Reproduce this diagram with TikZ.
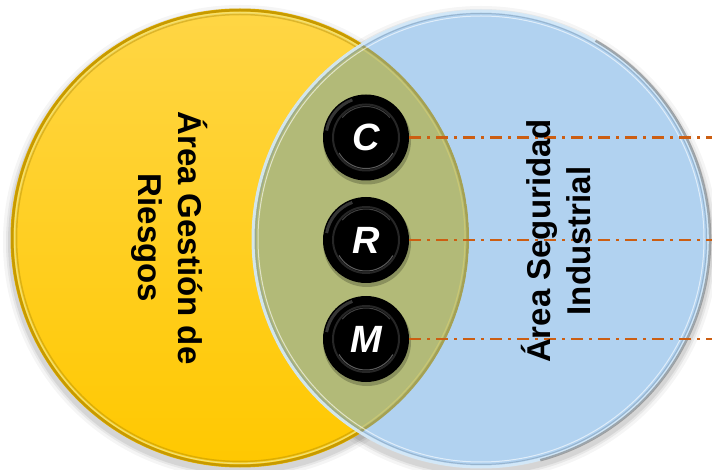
\documentclass[tikz,border=0pt]{standalone}
\usepackage{fontspec}
\setmainfont{Liberation Sans}
\definecolor{ytop}{HTML}{FFD645}
\definecolor{ybot}{HTML}{FFC800}
\definecolor{yring}{HTML}{E3B000}
\definecolor{yhi}{HTML}{FFE56A}
\definecolor{bfill}{HTML}{B1D2F0}
\definecolor{bring}{HTML}{D6EAF8}
\definecolor{bdark}{HTML}{7F97AD}
\definecolor{lens}{HTML}{B2BA78}
\definecolor{dashc}{HTML}{CC5E12}
\tikzset{
  btn/.style={circle, inner sep=0pt, minimum size=86pt, fill=black, text=white,
    font=\fontsize{38}{38}\selectfont\bfseries\itshape,
    path picture={
      \draw[line width=3pt, black!65, opacity=.6]
        ([shift={(110:40pt)}]path picture bounding box.center) arc[start angle=110, end angle=170, radius=40pt];
      \draw[line width=2pt, black!85]
        (path picture bounding box.center) circle (33pt);
      \draw[line width=1pt, black!55, opacity=.8]
        ([shift={(210:31pt)}]path picture bounding box.center) arc[start angle=210, end angle=330, radius=31pt];
      \draw[line width=1pt, black!75]
        ([shift={(40:31pt)}]path picture bounding box.center) arc[start angle=40, end angle=140, radius=31pt];
    }},
  btnshadow/.style={fill=black, opacity=.22},
  dashline/.style={draw=dashc, line width=2.6pt, dash pattern=on 12pt off 6pt on 3pt off 6pt},
  bigtext/.style={align=center, font=\fontsize{33}{40}\selectfont\bfseries, text=black},
}
\begin{document}
\begin{tikzpicture}[x=1pt,y=1pt]
\useasboundingbox (0,0) rectangle (712,469);
\coordinate (Y) at (240,231);
\coordinate (B) at (481,230);
% soft shadows
\foreach \d/\o in {8/0.04,5/0.06,3/0.08} {
  \fill[black,opacity=\o] (240,227) circle ({229pt+\d pt});
  \fill[black,opacity=\o] (481,226) circle ({229pt+\d pt});
}
% yellow circle
\shade[top color=ytop, bottom color=ybot] (Y) circle (229pt);
\draw[yring, line width=3pt] (Y) circle (228pt);
\draw[yhi, line width=1.2pt] (Y) circle (225.5pt);
\draw[yring!70!black, line width=1.5pt, opacity=.35] (Y) circle (223.5pt);
% blue circle
\fill[bfill] (B) circle (229pt);
\begin{scope}
  \clip (Y) circle (229pt);
  \fill[lens] (B) circle (229pt);
  \draw[yring!60!black, line width=3pt, opacity=.3] (Y) circle (228pt);
  \draw[yhi!60!lens, line width=1.2pt, opacity=.5] (Y) circle (225pt);
\end{scope}
\draw[bring, line width=3pt, opacity=.9] (B) circle (228pt);
\draw[bdark, line width=1pt, opacity=.5] (B) circle (225.5pt);
\draw[white, line width=1pt, opacity=.6] (B) circle (223pt);
\draw[black!60, line width=2.5pt, opacity=.5] (B) ++(-75:229pt) arc[start angle=-75, end angle=60, radius=229pt];
% end points of dash lines
\coordinate (eC) at (712,331.5);
\coordinate (eR) at (712,229);
\coordinate (eM) at (712,130);
% button shadows
\fill[btnshadow] (367,328.5) circle (44pt);
\fill[btnshadow] (367,226) circle (44pt);
\fill[btnshadow] (367,127) circle (44pt);
\node[btn] (C) at (366,331.5) {C};
\node[btn] (R) at (366,229) {R};
\node[btn] (M) at (366,130) {M};
\draw[dashline] (C.east) -- (eC);
\draw[dashline] (R.east) -- (eR);
\draw[dashline] (M.east) -- (eM);
% texts
\node[bigtext, rotate=-90] (tl) at (170,231) {Área Gestión de\\Riesgos};
\node[bigtext, rotate=90] (tr) at (556.5,228) {Área Seguridad\\Industrial};
\end{tikzpicture}
\end{document}
